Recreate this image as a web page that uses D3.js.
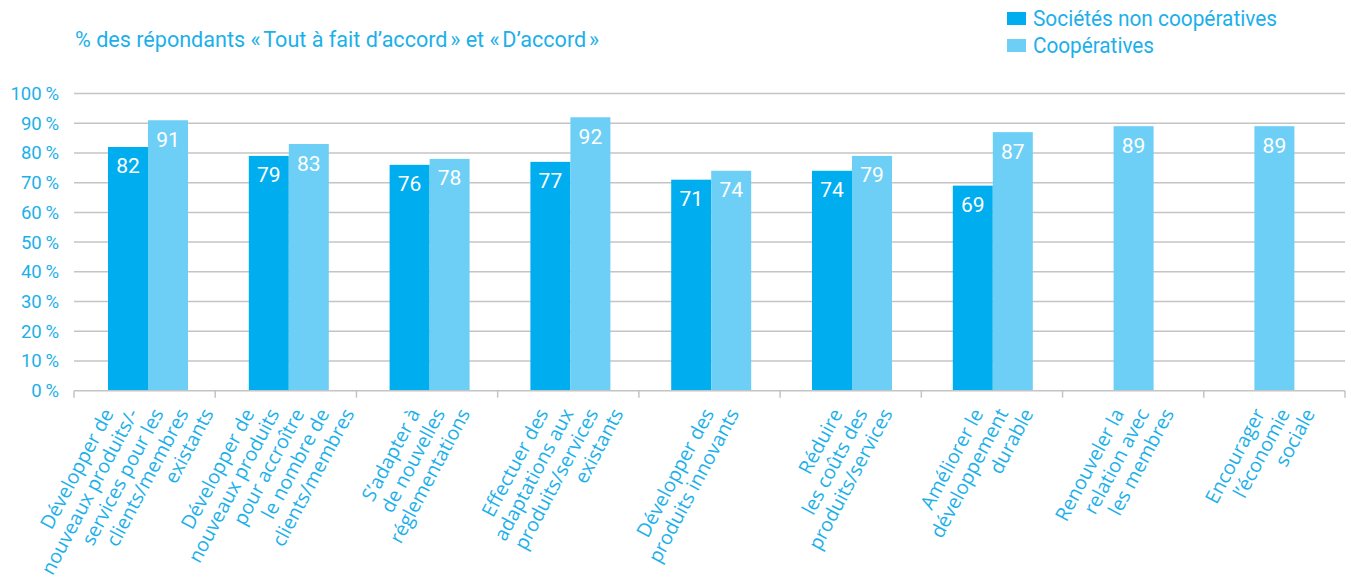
<!DOCTYPE html>
<html lang="fr">
<head>
<meta charset="utf-8">
<script src="https://cdn.jsdelivr.net/npm/d3@7"></script>
<style>
  html, body { margin: 0; padding: 0; background: #ffffff; }
  svg { display: block; }
</style>
</head>
<body>
<svg id="chart" width="1351" height="578"></svg>
<script>
// Objectifs de l'innovation, sociétés non coopératives vs coopératives
const categories = [
  "Développer de\nnouveaux produits/-\nservices pour les\nclients/membres\nexistants",
  "Développer de\nnouveaux produits\npour accroître\nle nombre de\nclients/membres",
  "S’adapter à\nde nouvelles\nréglementations",
  "Effectuer des\nadaptations aux\nproduits/services\nexistants",
  "Développer des\nproduits innovants",
  "Réduire\nles coûts des\nproduits/services",
  "Améliorer le\ndéveloppement\ndurable",
  "Renouveler la\nrelation avec\nles membres",
  "Encourager\nl’économie\nsociale"
];
const nonCoop = [82, 79, 76, 77, 71, 74, 69, null, null];
const coop    = [91, 83, 78, 92, 74, 79, 87, 89, 89];
const yTicks  = [0, 10, 20, 30, 40, 50, 60, 70, 80, 90, 100];
const seriesNames = ["Sociétés non coopératives", "Coopératives"];

const colors = { dark: "#00aeef", light: "#6dcff6", text: "#1cb0ea", grid: "#c4c4c4" };
const numFont = "Roboto, 'Noto Sans', sans-serif";
const labelFont = "'Open Sans', 'Noto Sans', sans-serif";

const svg = d3.select("#chart");
const plot = { left: 74, right: 1345, top: 93.5, bottom: 390.7 };

// Category bands (axis ticks) and bar-group positions
const x = d3.scaleBand().domain(d3.range(categories.length)).range([plot.left, plot.right]);
const xBar = d3.scaleBand().domain(d3.range(categories.length)).range([77.6, 1344.8]);
const y = d3.scaleLinear().domain([0, 100]).range([plot.bottom, plot.top]);
const barW = 40;

// Subtitle
svg.append("text")
  .attr("x", 75).attr("y", 47)
  .attr("fill", colors.text)
  .attr("textLength", 524).attr("lengthAdjust", "spacingAndGlyphs")
  .style("font-family", numFont).style("font-size", "21.5px")
  .text("% des répondants «\u2009Tout à fait d’accord\u2009» et «\u2009D’accord\u2009»");

// Legend
const legendWidths = [244, 121];
const legend = svg.append("g");
[colors.dark, colors.light].forEach((c, i) => {
  legend.append("rect").attr("x", 1007).attr("y", 12 + i * 27).attr("width", 19).attr("height", 13).attr("fill", c);
  legend.append("text").attr("x", 1033).attr("y", 26 + i * 27)
    .attr("fill", colors.text)
    .attr("textLength", legendWidths[i]).attr("lengthAdjust", "spacingAndGlyphs")
    .style("font-family", numFont).style("font-size", "21.5px")
    .text(seriesNames[i]);
});

// Gridlines
svg.append("g").selectAll("line").data(yTicks.filter(d => d > 0)).join("line")
  .attr("x1", plot.left).attr("x2", plot.right)
  .attr("y1", d => y(d)).attr("y2", d => y(d))
  .attr("stroke", colors.grid).attr("stroke-width", 1.5);

// Y axis labels
const yAxis = d3.axisLeft(y).tickValues(yTicks).tickSize(0).tickPadding(15).tickFormat(d => d + "\u2009%");
const yg = svg.append("g").attr("transform", `translate(${plot.left},0)`).call(yAxis);
yg.select(".domain").remove();
yg.selectAll("text").attr("fill", colors.text)
  .style("font-family", numFont).style("font-size", "18.5px");

// Bars
const bars = svg.append("g");
categories.forEach((c, i) => {
  const cx = xBar(i) + xBar.bandwidth() / 2;
  const items = [];
  if (nonCoop[i] != null) items.push({ v: nonCoop[i], color: colors.dark });
  if (coop[i] != null) items.push({ v: coop[i], color: colors.light });
  const x0 = cx - items.length * barW / 2;
  items.forEach((it, k) => {
    bars.append("rect")
      .attr("x", x0 + k * barW).attr("width", barW)
      .attr("y", y(it.v)).attr("height", y(0) - y(it.v))
      .attr("fill", it.color);
    bars.append("text")
      .attr("x", x0 + k * barW + barW / 2).attr("y", y(it.v) + 26.5)
      .attr("text-anchor", "middle").attr("fill", "#ffffff")
      .style("font-family", numFont).style("font-size", "21px")
      .text(it.v);
  });
});

// X axis baseline with ticks at band boundaries
const xg = svg.append("g");
xg.append("line").attr("x1", plot.left).attr("x2", plot.right).attr("y1", plot.bottom).attr("y2", plot.bottom)
  .attr("stroke", colors.grid).attr("stroke-width", 1.5);
xg.selectAll("line.tick").data(d3.range(categories.length + 1)).join("line")
  .attr("class", "tick")
  .attr("x1", d => plot.left + d * x.step()).attr("x2", d => plot.left + d * x.step())
  .attr("y1", plot.bottom).attr("y2", plot.bottom + 7)
  .attr("stroke", colors.grid).attr("stroke-width", 1.5);

// Rotated category labels, one line at a time, ends on a common horizontal
const lab = svg.append("g");
categories.forEach((c, i) => {
  const cx = xBar(i) + xBar.bandwidth() / 2;
  const lines = c.split("\n");
  const n = lines.length;
  lines.forEach((ln, j) => {
    const px = cx + 10 + (j - (n - 1) / 2) * 25;
    lab.append("text")
      .attr("transform", `translate(${px},410) rotate(-62)`)
      .attr("text-anchor", "end").attr("dy", "0.35em")
      .attr("fill", colors.text)
      .style("font-family", labelFont).style("font-size", "19.5px")
      .text(ln);
  });
});
</script>
</body>
</html>
